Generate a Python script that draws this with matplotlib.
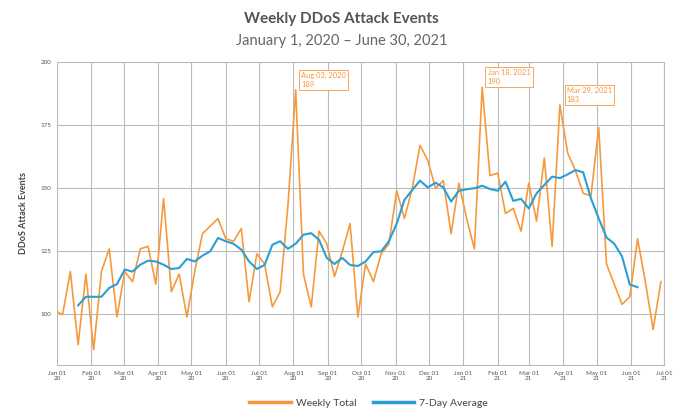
import matplotlib
matplotlib.use("Agg")
import matplotlib.pyplot as plt
import matplotlib.dates as mdates
import pandas as pd

plt.rcParams['font.family'] = ['Lato', 'DejaVu Sans']

# semanas: 1 jan 2020 e depois as segundas-feiras ate 28 jun 2021
semanas = [pd.Timestamp("2020-01-01")] + list(pd.date_range("2020-01-06", "2021-06-28", freq="7D"))

weekly_total = [101, 100, 117, 88, 116, 86, 117, 126, 99, 117,
                113, 126, 127, 112, 146, 109, 116, 99, 117, 132,
                135, 138, 130, 129, 134, 105, 124, 120, 103, 109,
                143, 189, 116, 103, 133, 128, 115, 125, 136, 99,
                120, 113, 124, 128, 149, 138, 150, 167, 161, 150,
                153, 132, 152, 138, 126, 190, 155, 156, 140, 142,
                133, 152, 137, 162, 127, 183, 164, 157, 148, 147,
                174, 120, 112, 104, 107, 130, 113, 94, 113]

# media movel: do indice 3 ao 75 das semanas
media_7d = [103.6, 107, 107, 107, 110.5, 112, 117.8, 117, 119.7, 121.3,
            121, 119.7, 118, 118.4, 122, 121, 123.3, 125, 130.3, 129,
            128, 125.7, 121, 118, 119.6, 127.6, 129, 126, 128, 131.6,
            132.2, 129.6, 122.4, 120, 122.4, 119.6, 119.2, 121, 124.7, 125,
            129, 136, 145.4, 149.3, 153, 150.3, 152.2, 150.3, 144.7, 149,
            149.6, 150, 151, 149.7, 149, 152.6, 145, 145.8, 142, 148,
            151.3, 154.6, 154, 155.5, 157.2, 156.3, 146, 138, 130.5, 128,
            123, 111.8, 110.8]
datas_media = semanas[3:3 + len(media_7d)]

# pontos destacados no grafico
destaques = [("Aug 03, 2020", 189), ("Jan 18, 2021", 190), ("Mar 29, 2021", 183)]

laranja = "#F7993B"
azul = "#2A9FD6"

fig = plt.figure(figsize=(6.83, 4.19), dpi=100)
ax = fig.add_axes([0.0835, 0.129, 0.889, 0.723])

ax.plot(semanas, weekly_total, color=laranja, lw=1.2, label="Weekly Total")
ax.plot(datas_media, media_7d, color=azul, lw=1.5, label="7-Day Average")

ax.set_xlim(pd.Timestamp("2020-01-01"), pd.Timestamp("2021-07-01"))
ax.set_ylim(80, 200)
ax.set_yticks([100, 125, 150, 175, 200])
ax.xaxis.set_major_locator(mdates.MonthLocator())
ax.xaxis.set_major_formatter(mdates.DateFormatter("%b %d\n%y"))
ax.tick_params(axis="both", length=0, labelsize=4.5, labelcolor="#555555", pad=4)
ax.grid(True, color="#bbbbbb", lw=0.8)
ax.set_axisbelow(True)
for lado in ["top", "left"]:
    ax.spines[lado].set_visible(False)
ax.spines["bottom"].set_color("#bbbbbb")
ax.spines["right"].set_color("#bbbbbb")
ax.spines["bottom"].set_linewidth(0.8)
ax.spines["right"].set_linewidth(0.8)

ax.set_ylabel("DDoS Attack Events", fontsize=6.5, fontweight="bold", color="#444444", labelpad=9)

for texto, valor in destaques:
    data = pd.Timestamp(texto)
    dx = 4 if valor != 183 else 5
    ax.annotate(texto + "\n" + str(valor), xy=(data, valor), xytext=(dx, 1.5),
                textcoords="offset points", ha="left", va="bottom",
                fontsize=5.4, color=laranja, linespacing=1.3,
                bbox=dict(boxstyle="square,pad=0.3", fc="white", ec=laranja, lw=0.6))

fig.text(0.5, 0.955, "Weekly DDoS Attack Events", ha="center", va="center",
         fontsize=11, fontweight="bold", color="#555555")
fig.text(0.5, 0.902, "January 1, 2020 – June 30, 2021", ha="center", va="center",
         fontsize=10.5, color="#666666")

fig.legend(loc="center", bbox_to_anchor=(0.54, 0.038), ncol=2, frameon=False,
           fontsize=7.5, handlelength=4, handletextpad=0.5, columnspacing=1.5,
           labelcolor="#444444")
for linha in fig.legends[0].get_lines():
    linha.set_linewidth(2.5)

fig.savefig("out.png", dpi=100)
